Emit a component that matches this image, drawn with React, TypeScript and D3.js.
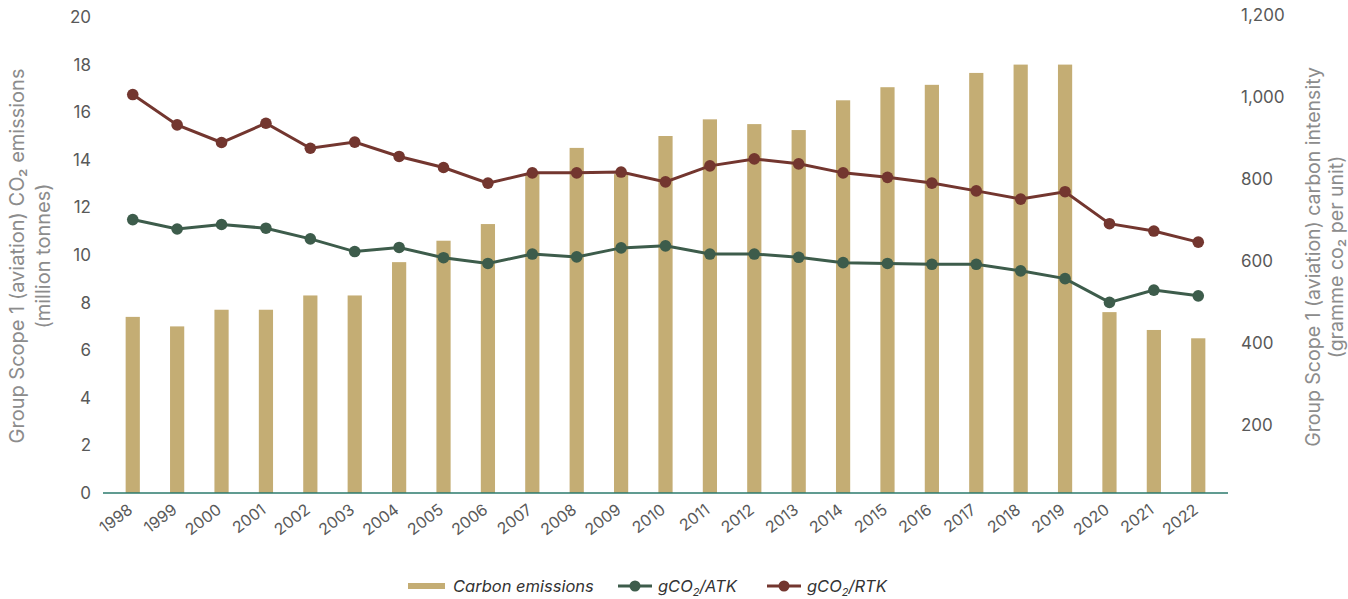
import React from 'react';
import * as d3 from 'd3';

// years on the x axis
const years = [
  '1998', '1999', '2000', '2001', '2002', '2003', '2004', '2005', '2006', '2007', '2008', '2009',
  '2010', '2011', '2012', '2013', '2014', '2015', '2016', '2017', '2018', '2019', '2020', '2021', '2022',
];

// Carbon emissions, million tonnes (left axis)
const emissions = [
  7.4, 7.0, 7.7, 7.7, 8.3, 8.3, 9.7, 10.6, 11.3, 13.4, 14.5, 13.4,
  15.0, 15.7, 15.5, 15.25, 16.5, 17.05, 17.15, 17.65, 18.0, 18.0, 7.6, 6.85, 6.5,
];

// gCO2/ATK (right axis)
const atk = [
  701, 678, 689, 680, 654, 623, 633, 608, 594, 617, 610, 632,
  637, 617, 617, 609, 596, 594, 592, 592, 576, 557, 499, 529, 515,
];

// gCO2/RTK (right axis)
const rtk = [
  1006, 932, 889, 936, 875, 890, 855, 828, 790, 815, 815, 817,
  793, 832, 849, 837, 815, 804, 790, 771, 751, 769, 691, 673, 646,
];

const leftTicks = [0, 2, 4, 6, 8, 10, 12, 14, 16, 18, 20];
const rightTicks = [200, 400, 600, 800, 1000, 1200];

const W = 1348;
const H = 599;
const FONT = 'Inter, "Noto Sans", sans-serif';
const BAR = '#c4ad74';
const ATK_COLOR = '#3d5c4b';
const RTK_COLOR = '#73362f';
const TICK = '#595959';
const TITLE = '#8c8c8c';

export default function App() {
  const x = d3.scaleBand<string>()
    .domain(years)
    .range([103, 1228])
    .paddingInner(0.68)
    .paddingOuter(0.51);
  const yLeft = d3.scaleLinear().domain([0, 20]).range([493, 17]);
  const yRight = d3.scaleLinear().domain([0, 1200]).range([507, 15]);

  const cx = (y: string) => (x(y) as number) + x.bandwidth() / 2;

  const line = d3.line<number>()
    .x((d, i) => cx(years[i]))
    .y(d => yRight(d));

  const series = [
    { values: atk, color: ATK_COLOR },
    { values: rtk, color: RTK_COLOR },
  ];

  return (
    <svg width={W} height={H} style={{ position: 'absolute', left: 0, top: 0, background: '#fff' }}
      fontFamily={FONT}>
      {/* bars */}
      {emissions.map((v, i) => (
        <rect key={years[i]} x={x(years[i])} y={yLeft(v)} width={x.bandwidth()}
          height={yLeft(0) - yLeft(v)} fill={BAR} />
      ))}

      {/* baseline */}
      <line x1={103} x2={1228} y1={yLeft(0)} y2={yLeft(0)} stroke="#2b7a6c" strokeWidth={1.5} />

      {/* lines */}
      {series.map(s => (
        <g key={s.color}>
          <path d={line(s.values) || ''} fill="none" stroke={s.color} strokeWidth={3} />
          {s.values.map((v, i) => (
            <circle key={i} cx={cx(years[i])} cy={yRight(v)} r={5.8} fill={s.color} />
          ))}
        </g>
      ))}

      {/* left ticks */}
      {leftTicks.map(t => (
        <text key={t} x={91} y={yLeft(t)} dy="0.35em" textAnchor="end" fontSize={17} fill={TICK}>{t}</text>
      ))}

      {/* right ticks */}
      {rightTicks.map(t => (
        <text key={t} x={1241} y={yRight(t)} dy="0.35em" textAnchor="start" fontSize={17} fill={TICK}>
          {d3.format(',')(t)}
        </text>
      ))}

      {/* x labels */}
      {years.map(yr => (
        <text key={yr} transform={`translate(${cx(yr) + 1},${512}) rotate(-37)`} textAnchor="end"
          fontSize={16} fill={TICK}>{yr}</text>
      ))}

      {/* axis titles */}
      <g transform="translate(0,256) rotate(-90)" fill={TITLE} fontSize={20} textAnchor="middle">
        <text x={0} y={24}>Group Scope 1 (aviation) CO₂ emissions</text>
        <text x={0} y={50}>(million tonnes)</text>
      </g>
      <g transform="translate(1300,257) rotate(-90)" fill={TITLE} fontSize={19.5} textAnchor="middle">
        <text x={0} y={20}>Group Scope 1 (aviation) carbon intensity</text>
        <text x={0} y={43}>(gramme co₂ per unit)</text>
      </g>

      {/* legend */}
      <g fontSize={16.5} fontStyle="italic" fill="#333">
        <rect x={408} y={583} width={37} height={6} fill={BAR} />
        <text x={453} y={586} dy="0.35em">Carbon emissions</text>

        <line x1={618} x2={652} y1={586} y2={586} stroke={ATK_COLOR} strokeWidth={3} />
        <circle cx={635} cy={586} r={5.5} fill={ATK_COLOR} />
        <text x={658} y={586} dy="0.35em">gCO<tspan fontSize={11} dy="4">2</tspan><tspan dy="-4">/ATK</tspan></text>

        <line x1={767} x2={801} y1={586} y2={586} stroke={RTK_COLOR} strokeWidth={3} />
        <circle cx={784} cy={586} r={5.5} fill={RTK_COLOR} />
        <text x={807} y={586} dy="0.35em">gCO<tspan fontSize={11} dy="4">2</tspan><tspan dy="-4">/RTK</tspan></text>
      </g>
    </svg>
  );
}
